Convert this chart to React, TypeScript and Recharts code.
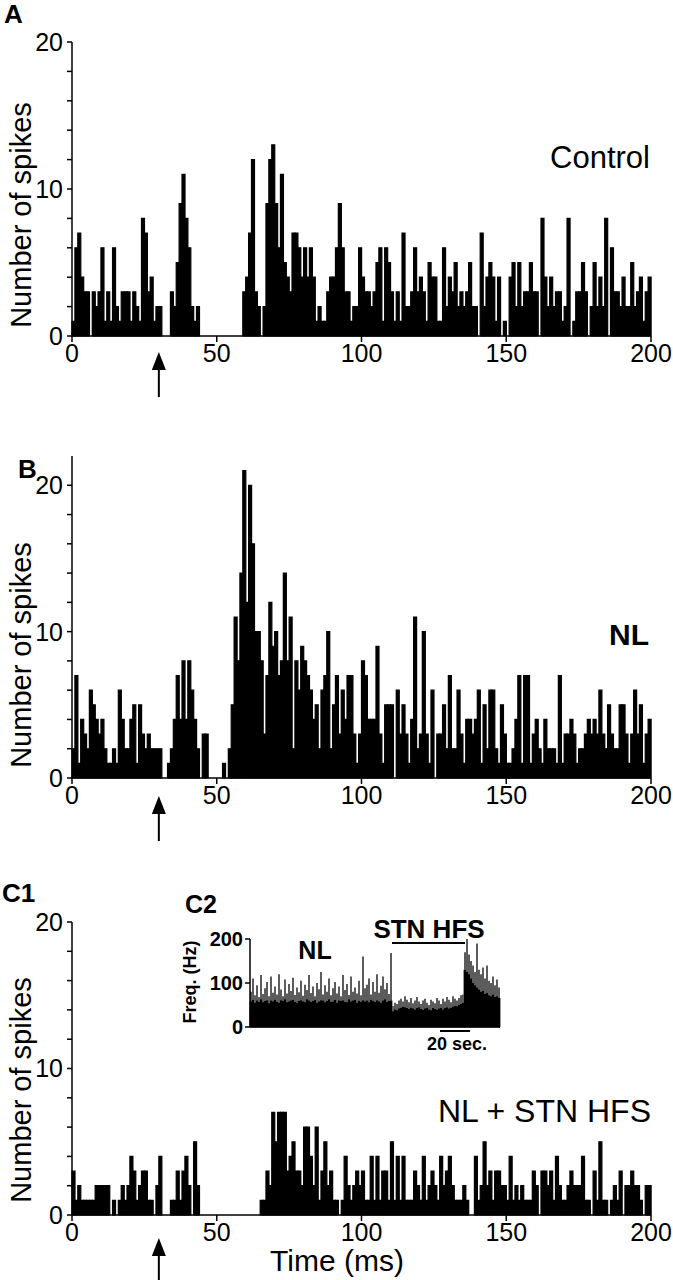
import React from 'react';
import { BarChart, Bar, XAxis, YAxis } from 'recharts';

// spike counts per 1 ms bin, 0..199 ms
const CONTROL_COUNTS = [
  1, 6, 7, 4, 3, 3, 0, 3, 2, 3,
  6, 1, 3, 1, 6, 2, 1, 3, 3, 3,
  1, 3, 2, 1, 8, 7, 3, 4, 1, 2,
  2, 0, 0, 0, 3, 2, 5, 9, 11, 8,
  6, 2, 1, 2, 0, 0, 0, 0, 0, 0,
  0, 0, 0, 0, 0, 0, 0, 0, 0, 3,
  4, 7, 12, 3, 2, 0, 2, 9, 12, 13,
  9, 6, 11, 5, 4, 3, 7, 7, 6, 4,
  6, 4, 6, 4, 1, 2, 1, 1, 3, 4,
  4, 6, 9, 6, 3, 3, 1, 2, 2, 6,
  4, 3, 3, 2, 3, 5, 6, 1, 6, 5,
  3, 1, 3, 1, 7, 2, 2, 3, 6, 3,
  4, 3, 1, 5, 4, 4, 1, 1, 6, 2,
  4, 3, 5, 2, 3, 2, 3, 5, 2, 2,
  0, 7, 2, 4, 5, 4, 1, 4, 0, 1,
  0, 4, 5, 2, 5, 2, 3, 3, 5, 3,
  3, 0, 8, 4, 2, 4, 2, 3, 3, 1,
  2, 8, 0, 1, 3, 3, 5, 3, 0, 2,
  5, 2, 4, 2, 8, 0, 6, 3, 3, 2,
  4, 2, 2, 5, 2, 3, 4, 1, 3, 4,
];

const NL_COUNTS = [
  2, 7, 1, 4, 3, 2, 6, 5, 4, 3,
  4, 2, 1, 1, 2, 1, 6, 4, 2, 2,
  4, 5, 1, 5, 3, 2, 3, 2, 2, 2,
  2, 0, 0, 1, 2, 4, 7, 4, 8, 4,
  8, 6, 4, 2, 0, 3, 3, 0, 0, 0,
  0, 0, 1, 0, 2, 5, 11, 8, 14, 21,
  12, 20, 16, 10, 10, 8, 3, 7, 12, 9,
  10, 7, 8, 14, 8, 11, 2, 8, 6, 9,
  8, 7, 6, 4, 5, 2, 6, 7, 10, 2,
  5, 7, 3, 6, 4, 7, 7, 3, 1, 3,
  8, 7, 4, 4, 4, 9, 3, 1, 5, 5,
  5, 0, 6, 3, 5, 3, 1, 4, 11, 2,
  3, 10, 3, 1, 6, 0, 3, 3, 5, 2,
  7, 2, 2, 6, 3, 1, 4, 4, 3, 4,
  6, 1, 5, 2, 6, 6, 2, 1, 5, 3,
  1, 1, 2, 4, 7, 1, 7, 7, 1, 3,
  4, 2, 1, 4, 2, 2, 2, 1, 7, 1,
  3, 3, 4, 3, 1, 2, 2, 3, 4, 3,
  4, 3, 6, 3, 2, 5, 3, 2, 2, 5,
  5, 3, 1, 3, 6, 3, 5, 1, 3, 4,
];

const HFS_COUNTS = [
  3, 1, 2, 1, 1, 1, 1, 1, 2, 2,
  2, 2, 2, 0, 1, 0, 1, 2, 1, 2,
  4, 3, 1, 2, 3, 3, 1, 1, 0, 2,
  4, 0, 0, 0, 1, 1, 3, 1, 3, 4,
  2, 0, 5, 2, 0, 0, 0, 0, 0, 0,
  0, 0, 0, 0, 0, 0, 0, 0, 0, 0,
  0, 0, 0, 0, 0, 1, 1, 3, 2, 7,
  5, 7, 7, 7, 3, 4, 5, 3, 3, 2,
  6, 6, 4, 2, 6, 1, 3, 5, 2, 3,
  1, 1, 0, 1, 4, 2, 1, 2, 3, 2,
  3, 1, 1, 4, 1, 4, 1, 3, 3, 1,
  5, 1, 4, 1, 4, 1, 1, 1, 3, 2,
  1, 4, 1, 2, 3, 2, 1, 4, 2, 3,
  4, 2, 1, 1, 1, 2, 1, 0, 0, 4,
  1, 2, 5, 2, 3, 1, 3, 3, 2, 2,
  1, 4, 1, 2, 1, 2, 1, 1, 1, 3,
  2, 0, 3, 3, 2, 3, 1, 4, 2, 1,
  1, 2, 3, 2, 2, 2, 4, 1, 1, 0,
  3, 1, 5, 1, 1, 0, 1, 2, 1, 3,
  0, 2, 2, 3, 2, 2, 1, 0, 2, 2,
];

// inset C2: firing frequency (Hz), NL -> STN HFS -> after
const INSET_BASE = [
  58, 62, 55, 60, 57, 63, 56, 59, 61, 54,
  60, 58, 62, 57, 55, 61, 59, 63, 56, 58,
  60, 62, 57, 55, 59, 61, 58, 56, 63, 60,
  57, 59, 62, 55, 58, 61, 60, 56, 59, 63,
  57, 58, 62, 55, 60, 59, 61, 57, 56, 63,
  58, 60, 62, 55, 59, 57, 61, 58, 60, 56,
  62, 59, 57, 61, 58, 55, 60, 63, 57, 59,
  60,
  36, 40, 38, 42, 44, 46, 45, 43, 41, 44,
  42, 40, 43, 45, 41, 39, 42, 44, 40, 38,
  43, 41, 39, 42, 44, 40, 43, 45, 42, 44,
  46, 48, 47, 50, 52, 55,
  130, 125, 120, 110, 100, 95, 90, 85, 80, 82,
  75, 78, 72, 70, 74, 68, 70, 66,
];
const INSET_PEAK = [
  80, 110, 72, 95, 68, 118, 75, 88, 102, 70,
  115, 78, 92, 74, 120, 85, 70, 108, 76, 98,
  82, 112, 73, 90, 79, 105, 71, 96, 84, 118,
  77, 92, 70, 100, 86, 125, 74, 95, 80, 110,
  72, 88, 102, 76, 92, 70, 118, 84, 98, 73,
  115, 80, 90, 76, 105, 72, 160, 88, 96, 110,
  74, 102, 80, 120, 78, 94, 115, 86, 100, 75,
  168,
  48, 55, 52, 60, 64, 58, 70, 62, 56, 66,
  54, 60, 68, 58, 52, 60, 64, 55, 50, 62,
  58, 54, 66, 60, 52, 64, 58, 68, 62, 56,
  70, 64, 60, 66, 72, 74,
  170, 200, 165, 150, 140, 125, 190, 130, 120, 135,
  110, 140, 105, 100, 115, 95, 108, 90,
];

const X_TICKS = [0, 50, 100, 150, 200];
const Y_TICKS = [0, 2, 4, 6, 8, 10, 12, 14, 16, 18, 20];
const INSET_TICKS = [0, 100, 200];
const STIM_MS = 30;

const FONT = '"Liberation Sans", Arial, Helvetica, sans-serif';
const W = 673;
const PLOT_LEFT = 72;
const PLOT_RIGHT = 651;
const X_AXIS_H = 40;
const BIN_PX = (PLOT_RIGHT - PLOT_LEFT) / 200;

const toRows = (counts: number[]) => counts.map((n, i) => ({ t: i + 0.5, n }));

function Histogram({ counts, top, plotTop, plotBottom, yMax }: { counts: number[]; top: number; plotTop: number; plotBottom: number; yMax: number }) {
  return (
    <div style={{ position: 'absolute', left: 0, top }}>
      <BarChart
        width={W}
        height={plotBottom - top + X_AXIS_H}
        data={toRows(counts)}
        margin={{ top: plotTop - top, right: W - PLOT_RIGHT, bottom: 0, left: PLOT_LEFT - 60 }}
        barCategoryGap={0}
        barGap={0}
      >
        <XAxis
          type="number"
          dataKey="t"
          domain={[0, 200]}
          ticks={X_TICKS}
          interval={0}
          height={X_AXIS_H}
          tickSize={6}
          tickMargin={2}
          tick={{ fill: '#000', fontSize: 25, fontFamily: FONT }}
          tickLine={{ stroke: '#000', strokeWidth: 1.5 }}
          axisLine={{ stroke: '#000', strokeWidth: 1.5 }}
        />
        <YAxis
          type="number"
          domain={[0, yMax]}
          ticks={Y_TICKS}
          interval={0}
          width={60}
          tickSize={5}
          tickMargin={4}
          tickFormatter={(v: number) => (v % 10 === 0 ? String(v) : '')}
          tick={{ fill: '#000', fontSize: 25, fontFamily: FONT }}
          tickLine={{ stroke: '#000', strokeWidth: 1.5 }}
          axisLine={{ stroke: '#000', strokeWidth: 1.5 }}
        />
        {/* the stroke closes the sub-pixel seams between neighbouring bins */}
        <Bar dataKey="n" fill="#000" stroke="#000" strokeWidth={1.2} isAnimationActive={false} />
      </BarChart>
    </div>
  );
}

function Inset() {
  const rows = INSET_BASE.map((b, i) => ({ i, base: b, spike: INSET_PEAK[i] - b }));
  return (
    <div style={{ position: 'absolute', left: 170, top: 920 }}>
      <BarChart width={340} height={121} data={rows} margin={{ top: 19, right: 10, bottom: 10, left: 30 }} barCategoryGap={0} barGap={0}>
        <XAxis dataKey="i" tick={false} tickLine={false} height={4} axisLine={{ stroke: '#000', strokeWidth: 1.5 }} />
        <YAxis
          type="number"
          domain={[0, 200]}
          ticks={INSET_TICKS}
          interval={0}
          width={50}
          tickSize={5}
          tickMargin={2}
          tick={{ fill: '#000', fontSize: 20, fontFamily: FONT, fontWeight: 700 }}
          tickLine={{ stroke: '#000', strokeWidth: 1.5 }}
          axisLine={{ stroke: '#000', strokeWidth: 1.5 }}
        />
        <Bar dataKey="base" stackId="f" fill="#000" stroke="#000" strokeWidth={0.8} isAnimationActive={false} />
        <Bar dataKey="spike" stackId="f" fill="#5c5c5c" isAnimationActive={false} />
      </BarChart>
    </div>
  );
}

function Arrow({ x, tip, tail }: { x: number; tip: number; tail: number }) {
  return (
    <g>
      <line x1={x} y1={tail} x2={x} y2={tip + 12} stroke="#000" strokeWidth={2} />
      <polygon points={`${x},${tip} ${x - 7},${tip + 18} ${x + 7},${tip + 18}`} fill="#000" />
    </g>
  );
}

export default function App() {
  const stimX = PLOT_LEFT + STIM_MS * BIN_PX;
  const label = { fontFamily: FONT, fill: '#000' } as const;
  return (
    <div style={{ position: 'absolute', left: 0, top: 0, width: W, height: 1280, background: '#fff', overflow: 'hidden' }}>
      <Histogram counts={CONTROL_COUNTS} top={0} plotTop={42} plotBottom={336} yMax={20} />
      <Histogram counts={NL_COUNTS} top={440} plotTop={456} plotBottom={778} yMax={22} />
      <Histogram counts={HFS_COUNTS} top={900} plotTop={922} plotBottom={1215} yMax={20} />
      <Inset />
      <svg width={W} height={1280} style={{ position: 'absolute', left: 0, top: 0, pointerEvents: 'none' }}>
        <text x={4} y={23} fontSize={26} fontWeight={700} {...label}>A</text>
        <text x={18} y={478} fontSize={26} fontWeight={700} {...label}>B</text>
        <text x={2} y={902} fontSize={26} fontWeight={700} {...label}>C1</text>

        <text transform="translate(31,215) rotate(-90)" textAnchor="middle" fontSize={29} {...label}>Number of spikes</text>
        <text transform="translate(31,655) rotate(-90)" textAnchor="middle" fontSize={29} {...label}>Number of spikes</text>
        <text transform="translate(31,1090) rotate(-90)" textAnchor="middle" fontSize={29} {...label}>Number of spikes</text>

        <text x={650} y={168} textAnchor="end" fontSize={31} {...label}>Control</text>
        <text x={649} y={645} textAnchor="end" fontSize={30} fontWeight={700} {...label}>NL</text>
        <text x={651} y={1122} textAnchor="end" fontSize={32} {...label}>NL + STN HFS</text>
        <text x={337} y={1271} textAnchor="middle" fontSize={30} {...label}>Time (ms)</text>

        <text x={185} y={913} fontSize={25} fontWeight={700} {...label}>C2</text>
        <text transform="translate(196,982) rotate(-90)" textAnchor="middle" fontSize={18} fontWeight={700} {...label}>Freq. (Hz)</text>
        <text x={315} y={959} textAnchor="middle" fontSize={25} fontWeight={700} {...label}>NL</text>
        <text x={429} y={938} textAnchor="middle" fontSize={26} fontWeight={700} {...label}>STN HFS</text>
        <line x1={392} y1={943} x2={465} y2={943} stroke="#000" strokeWidth={2} />
        <line x1={440} y1={1031} x2={470} y2={1031} stroke="#000" strokeWidth={2} />
        <text x={457} y={1050} textAnchor="middle" fontSize={18} fontWeight={700} {...label}>20 sec.</text>

        <Arrow x={stimX} tip={352} tail={397} />
        <Arrow x={stimX} tip={796} tail={841} />
        <Arrow x={stimX} tip={1238} tail={1280} />
      </svg>
    </div>
  );
}
